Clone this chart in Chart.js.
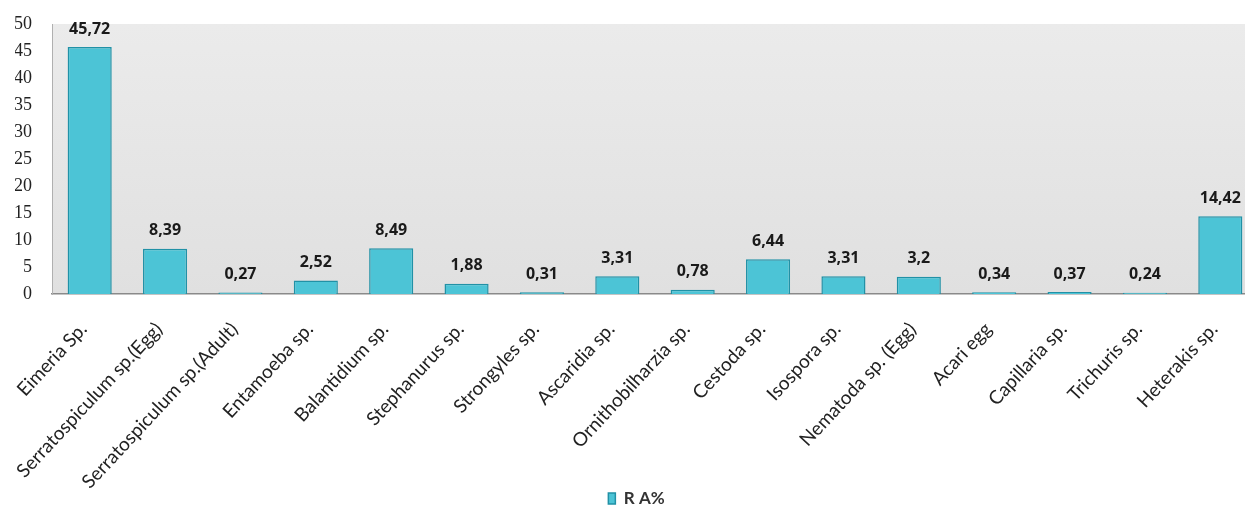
<!DOCTYPE html>
<html>
<head>
<meta charset="utf-8">
<script src="https://cdn.jsdelivr.net/npm/chart.js@4.4.0/dist/chart.umd.min.js"></script>
<style>
  html, body { margin: 0; padding: 0; background: #ffffff; overflow: hidden; }
  #wrap { position: relative; width: 1258px; height: 511px; }
</style>
</head>
<body>
<div id="wrap"><canvas id="c"></canvas></div>
<script>
const categories = ["Eimeria Sp.", "Serratospiculum sp.(Egg)", "Serratospiculum sp.(Adult)", "Entamoeba sp.", "Balantidium sp.", "Stephanurus sp.", "Strongyles sp.", "Ascaridia sp.", "Ornithobilharzia sp.", "Cestoda sp.", "Isospora sp.", "Nematoda sp. (Egg)", "Acari egg", "Capillaria sp.", "Trichuris sp.", "Heterakis sp."];
const raValues = [45.72, 8.39, 0.27, 2.52, 8.49, 1.88, 0.31, 3.31, 0.78, 6.44, 3.31, 3.2, 0.34, 0.37, 0.24, 14.42];
const valueLabels = ["45,72", "8,39", "0,27", "2,52", "8,49", "1,88", "0,31", "3,31", "0,78", "6,44", "3,31", "3,2", "0,34", "0,37", "0,24", "14,42"];
const yTicks = [0, 5, 10, 15, 20, 25, 30, 35, 40, 45, 50];
const seriesName = "R A%";

const plotBg = {
  id: 'plotBg',
  beforeDraw(chart) {
    const { ctx, chartArea: a } = chart;
    ctx.save();
    const g = ctx.createLinearGradient(0, a.top, 0, a.bottom);
    g.addColorStop(0, '#ebebeb');
    g.addColorStop(1, '#e0e0e0');
    ctx.fillStyle = g;
    ctx.fillRect(a.left, a.top, a.right - a.left, a.bottom - a.top);
    ctx.restore();
  }
};

const valueLabelPlugin = {
  id: 'valueLabels',
  afterDatasetsDraw(chart) {
    const { ctx } = chart;
    const meta = chart.getDatasetMeta(0);
    ctx.save();
    ctx.font = 'bold 16px "Open Sans"';
    ctx.fillStyle = '#1a1a1a';
    ctx.textAlign = 'center';
    ctx.textBaseline = 'middle';
    meta.data.forEach((bar, i) => {
      ctx.fillText(valueLabels[i], bar.x, bar.y - 18);
    });
    ctx.restore();
  }
};

new Chart(document.getElementById('c'), {
  type: 'bar',
  data: {
    labels: categories,
    datasets: [{
      label: seriesName,
      data: raValues,
      backgroundColor: '#4cc4d6',
      borderColor: '#2191a6',
      borderWidth: 1.5,
      barPercentage: 0.585,
      categoryPercentage: 1.0
    }]
  },
  options: {
    responsive: true,
    maintainAspectRatio: false,
    animation: false,
    layout: { padding: { left: 15, top: 24, right: 0, bottom: -6 } },
    plugins: {
      legend: {
        position: 'bottom',
        labels: {
          boxWidth: 7,
          boxHeight: 11,
          padding: 2,
          color: '#333',
          font: { family: 'Lato', size: 17, weight: 'bold' }
        }
      },
      tooltip: { enabled: false }
    },
    scales: {
      x: {
        grid: { display: false, drawTicks: false },
        border: { display: true, color: '#8a8a8a', width: 1.5 },
        ticks: {
          autoSkip: false,
          maxRotation: 47,
          minRotation: 47,
          padding: 24,
          labelOffset: -6,
          color: '#222',
          font: { family: 'Lato', size: 19 }
        },
        afterFit(scale) {
          scale.height = 194;
          scale.paddingLeft = 0;
          scale.paddingRight = 0;
        }
      },
      y: {
        min: 0,
        max: 50,
        afterBuildTicks(scale) { scale.ticks = yTicks.map(v => ({ value: v })); },
        grid: { display: false, drawTicks: false },
        border: { display: true, color: '#b0b0b0', width: 1 },
        ticks: {
          padding: 20,
          color: '#222',
          font: { family: 'Liberation Serif', size: 18 }
        },
        afterFit(scale) {
          scale.width = 37;
          scale.paddingTop = 0;
          scale.paddingBottom = 0;
        }
      }
    }
  },
  plugins: [plotBg, valueLabelPlugin]
});
</script>
</body>
</html>
